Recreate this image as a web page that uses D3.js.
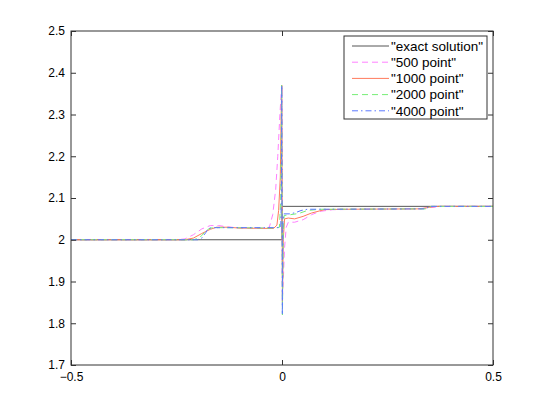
<!DOCTYPE html>
<html><head><meta charset="utf-8">
<script src="https://cdn.jsdelivr.net/npm/d3@7"></script>
<style>body{margin:0;background:#fff}svg{display:block}</style>
</head><body><svg id="c" width="545" height="410"></svg>
<script>
const xTicks = [-0.5, 0, 0.5];
const xTickLabels = ["\u22120.5", "0", "0.5"];
const yTicks = [1.7, 1.8, 1.9, 2.0, 2.1, 2.2, 2.3, 2.4, 2.5];
const yTickLabels = ["1.7", "1.8", "1.9", "2", "2.1", "2.2", "2.3", "2.4", "2.5"];
const seriesNames = ["\"exact solution\"", "\"500 point\"", "\"1000 point\"", "\"2000 point\"", "\"4000 point\""];

const exactX = [-0.5, 0, 0, 0.5];
const exactY = [2.0, 2.0, 2.08, 2.08];

const p500X = [-0.5, -0.25, -0.23, -0.21, -0.19, -0.17, -0.15, -0.13, -0.10, -0.05, -0.03, -0.022, -0.015, -0.01, -0.005, -0.002, -0.0005, 0.001, 0.003, 0.006, 0.01, 0.015, 0.03, 0.05, 0.07, 0.09, 0.12, 0.2, 0.32, 0.35, 0.38, 0.5];
const p500Y = [2.0, 2.0, 2.002, 2.012, 2.026, 2.034, 2.034, 2.031, 2.028, 2.027, 2.03, 2.06, 2.12, 2.2, 2.30, 2.35, 2.36, 1.86, 1.9, 1.98, 2.03, 2.042, 2.042, 2.048, 2.06, 2.068, 2.072, 2.073, 2.074, 2.077, 2.08, 2.08];

const p1000X = [-0.5, -0.23, -0.21, -0.19, -0.17, -0.155, -0.13, -0.1, -0.02, -0.012, -0.008, -0.004, -0.002, -0.0005, 0.001, 0.003, 0.006, 0.015, 0.03, 0.05, 0.07, 0.1, 0.14, 0.33, 0.35, 0.37, 0.5];
const p1000Y = [2.0, 2.0, 2.004, 2.015, 2.025, 2.03, 2.03, 2.028, 2.027, 2.035, 2.07, 2.15, 2.3, 2.37, 1.85, 2.0, 2.05, 2.052, 2.05, 2.056, 2.064, 2.072, 2.073, 2.074, 2.078, 2.08, 2.08];

const p2000X = [-0.5, -0.21, -0.2, -0.19, -0.18, -0.17, -0.15, -0.02, -0.006, -0.003, -0.001, 0.001, 0.003, 0.005, 0.02, 0.04, 0.06, 0.09, 0.34, 0.355, 0.5];
const p2000Y = [2.0, 2.0, 2.003, 2.01, 2.022, 2.028, 2.029, 2.028, 2.03, 2.1, 2.37, 1.82, 2.02, 2.058, 2.06, 2.063, 2.07, 2.073, 2.074, 2.08, 2.08];

const p4000X = [-0.5, -0.2, -0.19, -0.18, -0.175, -0.16, -0.003, -0.0015, -0.0005, 0.0008, 0.002, 0.004, 0.02, 0.035, 0.045, 0.06, 0.34, 0.35, 0.5];
const p4000Y = [2.0, 2.0, 2.004, 2.018, 2.027, 2.029, 2.029, 2.1, 2.37, 1.82, 2.04, 2.062, 2.062, 2.066, 2.07, 2.073, 2.074, 2.08, 2.08];

const colors = ["#555555", "#ff80ff", "#ff7a5c", "#77ee77", "#5a78ff"];
const dashes = [null, "6,4", null, "6,4", "6,3,1.5,3"];

const svg = d3.select("#c");
const L = 71, R = 493, T = 31, B = 365;
const x = d3.scaleLinear().domain([-0.5, 0.5]).range([L, R]);
const y = d3.scaleLinear().domain([1.7, 2.5]).range([B, T]);

svg.append("defs").append("clipPath").attr("id", "clip")
  .append("rect").attr("x", L).attr("y", T).attr("width", R - L).attr("height", B - T);

const series = [[exactX, exactY], [p500X, p500Y], [p1000X, p1000Y], [p2000X, p2000Y], [p4000X, p4000Y]];
const line = d3.line().x(d => x(d[0])).y(d => y(d[1]));
const g = svg.append("g").attr("clip-path", "url(#clip)");
series.forEach((s, i) => {
  const pts = s[0].map((v, k) => [v, s[1][k]]);
  g.append("path").attr("d", line(pts)).attr("fill", "none")
    .attr("stroke", colors[i]).attr("stroke-width", 1)
    .attr("stroke-dasharray", dashes[i]);
});

const font = "'Liberation Sans', Arial, Helvetica, sans-serif";
function styleAxis(a) {
  a.select(".domain").remove();
  a.selectAll("line").attr("stroke", "#333");
  a.selectAll("text").attr("font-family", font).attr("font-size", 12).attr("fill", "#000");
}
const ax = svg.append("g").attr("transform", `translate(0,${B})`)
  .call(d3.axisBottom(x).tickValues(xTicks).tickFormat((d, i) => xTickLabels[i]).tickSizeInner(-5).tickSizeOuter(0).tickPadding(7));
styleAxis(ax);
const axT = svg.append("g").attr("transform", `translate(0,${T})`)
  .call(d3.axisTop(x).tickValues(xTicks).tickFormat("").tickSizeInner(-5).tickSizeOuter(0));
styleAxis(axT);
const ay = svg.append("g").attr("transform", `translate(${L},0)`)
  .call(d3.axisLeft(y).tickValues(yTicks).tickFormat((d, i) => yTickLabels[i]).tickSizeInner(-5).tickSizeOuter(0).tickPadding(6));
styleAxis(ay);
const ayR = svg.append("g").attr("transform", `translate(${R},0)`)
  .call(d3.axisRight(y).tickValues(yTicks).tickFormat("").tickSizeInner(-5).tickSizeOuter(0));
styleAxis(ayR);

svg.append("rect").attr("x", L).attr("y", T).attr("width", R - L).attr("height", B - T)
  .attr("fill", "none").attr("stroke", "#333").attr("stroke-width", 1);

// legend
const lg = svg.append("g");
const lx = 344, ly = 36, lw = 143, lh = 83;
lg.append("rect").attr("x", lx).attr("y", ly).attr("width", lw).attr("height", lh)
  .attr("fill", "#fff").attr("stroke", "#333").attr("stroke-width", 1);
seriesNames.forEach((n, i) => {
  const yy = 46 + i * 16.2;
  lg.append("line").attr("x1", 352).attr("x2", 389).attr("y1", yy).attr("y2", yy)
    .attr("stroke", colors[i]).attr("stroke-width", 1).attr("stroke-dasharray", dashes[i]);
  lg.append("text").attr("x", 391).attr("y", yy).attr("dy", "0.35em")
    .attr("font-family", font).attr("font-size", 13.5).text(n);
});
</script></body></html>
